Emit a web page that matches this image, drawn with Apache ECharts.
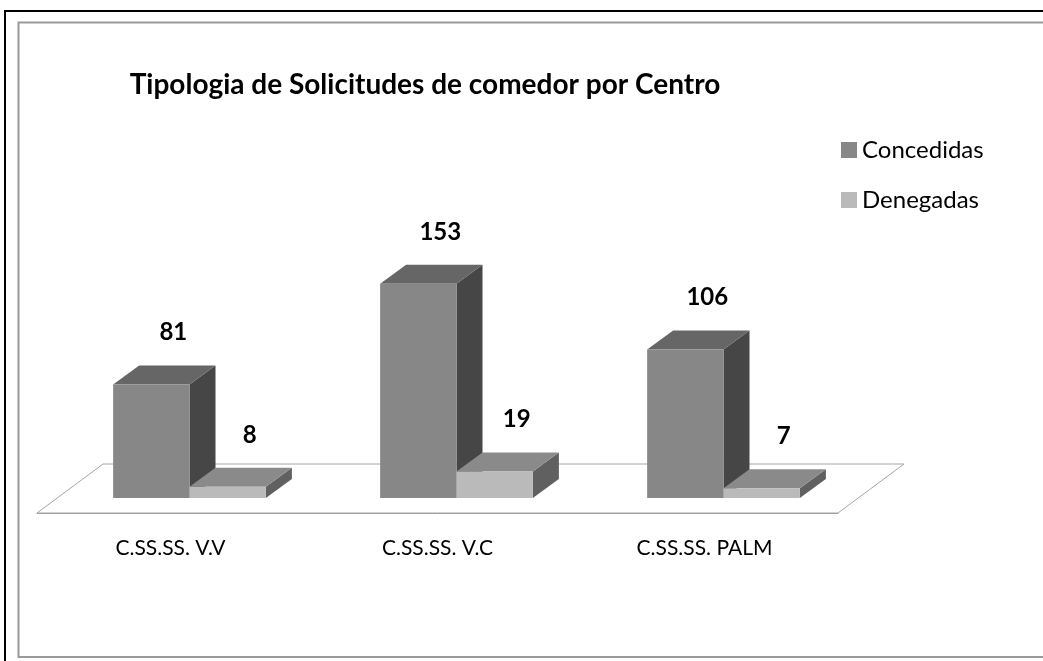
<!DOCTYPE html>
<html>
<head>
<meta charset="utf-8">
<script src="https://cdn.jsdelivr.net/npm/echarts@6/dist/echarts.min.js"></script>
<style>
  html, body { margin: 0; padding: 0; background: #fff; }
  #chart { width: 1043px; height: 661px; }
</style>
</head>
<body>
<div id="chart"></div>
<script>
const categories = ['C.SS.SS. V.V', 'C.SS.SS. V.C', 'C.SS.SS. PALM']
const concedidas = [81, 153, 106]
const denegadas = [8, 19, 7]
const seriesNames = ['Concedidas', 'Denegadas']

const font = 'Lato, "Open Sans", sans-serif'
// front / top / side shades for each series
const faces = [
  { front: '#878787', top: '#666666', side: '#464646' },
  { front: '#bababa', top: '#8a8a8a', side: '#606060' }
]

function barRender (side) {
  return function (params, api) {
    const i = api.value(0)
    const val = api.value(1)
    const base = api.coord([i, 0])
    const top = api.coord([i, val])
    const band = api.size([1, 0])[0]
    const w = band * 0.286
    const cx = base[0] + 19
    const x0 = side === 0 ? cx - w : cx
    const x1 = x0 + w
    const yb = base[1] - 15
    const yt = top[1] - 15
    const dx = 26
    const dy = -19
    const c = faces[side]
    return {
      type: 'group',
      children: [
        {
          type: 'polygon',
          shape: { points: [[x1, yt], [x1 + dx, yt + dy], [x1 + dx, yb + dy], [x1, yb]] },
          style: { fill: c.side }
        },
        {
          type: 'polygon',
          shape: { points: [[x0, yt], [x1, yt], [x1 + dx, yt + dy], [x0 + dx, yt + dy]] },
          style: { fill: c.top }
        },
        {
          type: 'rect',
          shape: { x: x0, y: yt, width: w, height: yb - yt },
          style: { fill: c.front }
        },
        {
          type: 'text',
          style: {
            text: String(val),
            x: x0 + w / 2 + 22,
            y: yt - 52,
            align: 'center',
            verticalAlign: 'middle',
            fill: '#000',
            font: 'bold 24px ' + font
          }
        }
      ]
    }
  }
}

function floorRender (params, api) {
  const band = api.size([1, 0])[0]
  const first = api.coord([0, 0])
  const last = api.coord([categories.length - 1, 0])
  const l = first[0] - band / 2
  const r = last[0] + band / 2
  const y = first[1]
  return {
    type: 'polygon',
    shape: { points: [[l, y], [r, y], [r + 66, y - 49], [l + 66, y - 49]] },
    style: { fill: '#fff', stroke: '#a6a6a6', lineWidth: 1 }
  }
}

const chart = echarts.init(document.getElementById('chart'))
chart.setOption({
  backgroundColor: '#fff',
  animation: false,
  graphic: [
    {
      type: 'rect',
      shape: { x: 5, y: 11, width: 1100, height: 700 },
      style: { fill: 'none', stroke: '#000', lineWidth: 2 },
      z: 100
    },
    {
      type: 'rect',
      shape: { x: 18.5, y: 22.5, width: 1030, height: 634.5 },
      style: { fill: 'none', stroke: '#9a9a9a', lineWidth: 2 },
      z: 100
    }
  ],
  title: {
    text: 'Tipologia de Solicitudes de comedor por Centro',
    left: 420,
    top: 66,
    textAlign: 'center',
    textStyle: { fontFamily: font, fontSize: 28, fontWeight: 'bold', color: '#000' }
  },
  legend: {
    orient: 'vertical',
    left: 841,
    top: 138,
    padding: 0,
    itemWidth: 16,
    itemHeight: 16,
    itemGap: 26,
    icon: 'rect',
    data: seriesNames,
    textStyle: { fontFamily: font, fontSize: 24, lineHeight: 24, color: '#000' }
  },
  grid: { left: 37, right: 205, top: 233, bottom: 148 },
  xAxis: {
    type: 'category',
    data: categories,
    axisLine: { lineStyle: { color: '#a0a0a0', width: 1 } },
    axisTick: { length: 8, lineStyle: { color: '#a0a0a0' } },
    axisLabel: { margin: 25, fontFamily: font, fontSize: 21, color: '#000' },
    z: 10
  },
  yAxis: {
    type: 'value',
    min: 0,
    max: 200,
    show: false
  },
  series: [
    {
      type: 'custom',
      silent: true,
      z: 1,
      renderItem: floorRender,
      data: [[0, 0]]
    },
    {
      name: seriesNames[0],
      type: 'custom',
      z: 2,
      itemStyle: { color: faces[0].front },
      renderItem: barRender(0),
      encode: { x: 0, y: 1 },
      data: concedidas.map((v, i) => [i, v])
    },
    {
      name: seriesNames[1],
      type: 'custom',
      z: 2,
      itemStyle: { color: faces[1].front },
      renderItem: barRender(1),
      encode: { x: 0, y: 1 },
      data: denegadas.map((v, i) => [i, v])
    }
  ]
})
</script>
</body>
</html>
